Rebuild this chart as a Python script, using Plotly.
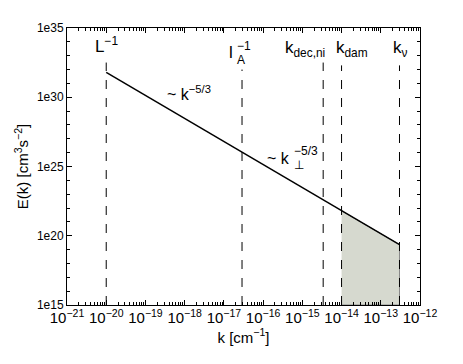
import numpy as np
import plotly.graph_objects as go

# spectrum line (k in cm^-1, E in cm^3 s^-2)
k_line = [1e-20, 3e-13]
E_line = [6.3e31, 2.3e19]

# shaded damping range
k_fill = [1e-14, 3e-13]
E_fill = [6.3e21, 2.3e19]

# characteristic scales
scale_k = [1e-20, 2.9e-17, 3.4e-15, 1e-14, 3e-13]
scale_top = [3.2e32, 1.0e32, 3.2e32, 2.0e32, 2.0e32]
scale_labels = ["L<sup>−1</sup>", "k<sub>dec,ni</sub>", "k<sub>dam</sub>", "k<sub>ν</sub>"]
label_x = [1e-20, 1.15e-15, 1.8e-14, 3.2e-13]
label_y = [6.8e32, 3.5e32, 3.5e32, 3.5e32]

ytick_vals = [1e15, 1e20, 1e25, 1e30, 1e35]
ytick_text = ["1e15", "1e20", "1e25", "1e30", "1e35"]

fig = go.Figure()

fig.add_trace(go.Scatter(
    x=k_fill + k_fill[::-1], y=E_fill + [1e15, 1e15],
    fill="toself", fillcolor="#d6d9cf", mode="lines",
    line=dict(color="#888888", width=1), hoverinfo="skip",
))

for k, top in zip(scale_k, scale_top):
    fig.add_trace(go.Scatter(
        x=[k, k], y=[1e15, top], mode="lines",
        line=dict(color="black", width=1, dash="dash"),
    ))

fig.add_trace(go.Scatter(
    x=k_line, y=E_line, mode="lines", line=dict(color="black", width=1.5),
))

for lx, ly, txt in zip(label_x, label_y, scale_labels):
    fig.add_annotation(x=np.log10(lx), y=np.log10(ly), text=txt, showarrow=False,
                       yanchor="bottom", font=dict(size=17, color="black"))


def stacked(x, y, base, sub, sup, size):
    # symbol with sub- and superscript stacked on each other
    fig.add_annotation(x=x, y=y, text=base, showarrow=False, xanchor="right",
                       font=dict(size=size, color="black"))
    fig.add_annotation(x=x, y=y + 0.5, text=sup, showarrow=False, xanchor="left",
                       font=dict(size=12, color="black"))
    fig.add_annotation(x=x, y=y - 0.5, text=sub, showarrow=False, xanchor="left",
                       font=dict(size=12, color="black"))


stacked(np.log10(1.9e-17), 33.2, "l", "A", "−1", 17)
stacked(np.log10(5.6e-16), 25.6, "~ k", "⊥", "−5/3", 16)

fig.add_annotation(x=np.log10(1.3e-18), y=np.log10(2e30), text="~ k<sup>−5/3</sup>",
                   showarrow=False, font=dict(size=16, color="black"))

axis_common = dict(
    type="log", showgrid=False, zeroline=False, showline=True, mirror="ticks",
    linecolor="black", linewidth=1, ticks="inside", ticklen=5, tickcolor="black",
    tickfont=dict(size=12, color="black"), automargin=False,
)

fig.update_xaxes(
    **axis_common, range=[-21, -12], dtick=1, exponentformat="power", tickangle=0,
    minor=dict(ticks="inside", ticklen=3, dtick="D1", tickcolor="black"),
    title=dict(text="k [cm<sup>−1</sup>]", font=dict(size=15, color="black"), standoff=4),
)
fig.update_yaxes(
    **axis_common, range=[15, 35], tickvals=ytick_vals, ticktext=ytick_text,
    minor=dict(ticks="inside", ticklen=3, dtick=1, tickcolor="black"),
    title=dict(text="E(k) [cm<sup>3</sup>s<sup>−2</sup>]", font=dict(size=15, color="black"), standoff=4),
)

fig.update_layout(
    width=463, height=364, showlegend=False,
    plot_bgcolor="white", paper_bgcolor="white",
    font=dict(family="Liberation Sans, Arial, sans-serif"),
    margin=dict(l=67, r=43, t=28, b=59),
)

# drop the default page margin so the figure sits at the window's corner
fig.write_html("out.html", config={"displayModeBar": False},
               post_script="document.body.style.margin='0';")
